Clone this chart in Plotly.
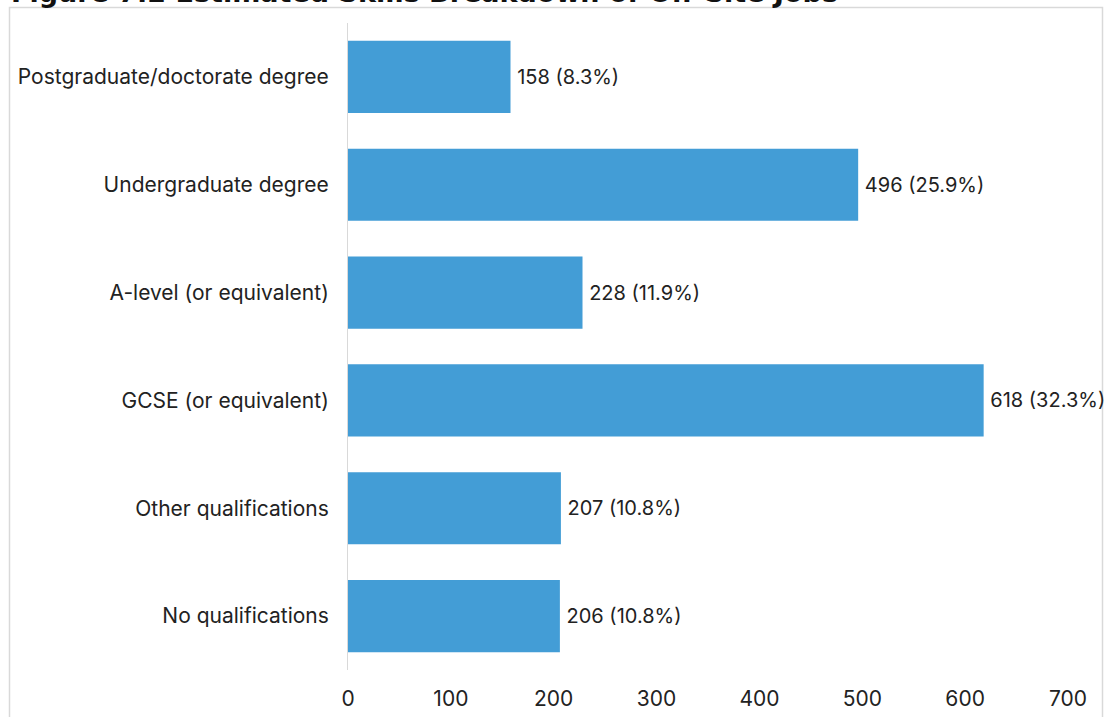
import plotly.graph_objects as go

categories = ["Postgraduate/doctorate degree", "Undergraduate degree", "A-level (or equivalent)",
              "GCSE (or equivalent)", "Other qualifications", "No qualifications"]
values = [158, 496, 228, 618, 207, 206]
percents = [8.3, 25.9, 11.9, 32.3, 10.8, 10.8]
x_ticks = [0, 100, 200, 300, 400, 500, 600, 700]
title = "Figure 7.2 Estimated Skills Breakdown of Off-Site Jobs"

labels = [f"\u2009{v} ({p}%)" for v, p in zip(values, percents)]

W, H = 1104, 717
L, R, T, B = 348, 36, 23, 47
pw, ph = W - L - R, H - T - B

def px(x):
    return (x - L) / pw

def py(y):
    return (H - B - y) / ph

font = "Inter, Lato, sans-serif"
fs = 21

fig = go.Figure(go.Bar(
    y=categories, x=values, orientation="h",
    marker=dict(color="#439DD6", line=dict(width=0)),
    text=labels, textposition="outside", cliponaxis=False,
    textfont=dict(family=font, size=20, color="#222222"),
    width=0.67,
))

fig.update_layout(
    width=W, height=H,
    margin=dict(l=L, r=R, t=T, b=B, autoexpand=False),
    paper_bgcolor="white", plot_bgcolor="white",
    showlegend=False,
    font=dict(family=font, size=fs, color="#222222"),
    xaxis=dict(range=[0, 700], tickvals=x_ticks, showgrid=False, zeroline=False, automargin=False,
               showline=False, ticks="outside", ticklen=10, tickcolor="rgba(0,0,0,0)",
               tickfont=dict(family=font, size=fs, color="#222222")),
    yaxis=dict(categoryorder="array", categoryarray=categories[::-1], automargin=False,
               showgrid=False, zeroline=False, showline=True, linecolor="#d9d9d9", linewidth=1,
               ticks="outside", ticklen=14, tickcolor="rgba(0,0,0,0)",
               tickfont=dict(family=font, size=fs, color="#222222")),
    shapes=[dict(type="rect", xref="paper", yref="paper",
                 x0=px(9.5), x1=px(1102.5), y0=py(730), y1=py(7.5),
                 line=dict(color="#d9d9d9", width=1.5), fillcolor="rgba(0,0,0,0)", layer="below")],
    annotations=[dict(text=f"<b>{title}</b>", xref="paper", yref="paper",
                      x=px(9), y=py(10), xanchor="left", yanchor="bottom", showarrow=False,
                      font=dict(family="DejaVu Sans", size=27, color="#111111"))],
)

fig.write_html("out.html")
